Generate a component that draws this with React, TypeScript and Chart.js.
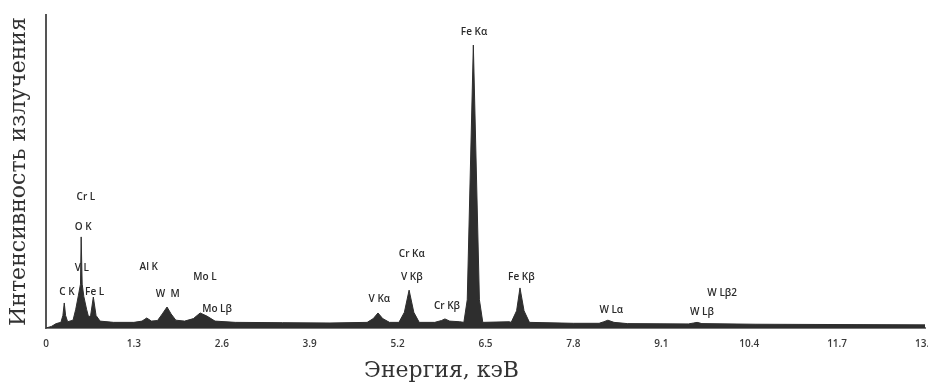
import React, { useEffect, useRef } from "react";
import { Chart, registerables } from "chart.js";
Chart.register(...registerables);

// Spectrum: energy (keV) and intensity (arbitrary units, 0-1000)
const energy = [
  0, 0.08, 0.15, 0.22, 0.25, 0.27, 0.29, 0.32, 0.4, 0.44, 0.48, 0.51, 0.52, 0.535, 0.56, 0.6, 0.63, 0.66, 0.7, 0.74,
  0.8, 1.0, 1.3, 1.42, 1.49, 1.56, 1.65, 1.72, 1.79, 1.85, 1.92, 2.05, 2.18, 2.28, 2.38, 2.5, 2.8, 3.5, 4.2, 4.75,
  4.84, 4.91, 4.98, 5.08, 5.22, 5.3, 5.37, 5.44, 5.52, 5.75, 5.85, 5.9, 5.97, 6.12, 6.18, 6.23, 6.32, 6.41, 6.46, 6.85,
  6.88, 6.96, 7.01, 7.07, 7.15, 7.8, 8.18, 8.25, 8.31, 8.4, 8.6, 9.5, 9.58, 9.63, 9.7, 10.5, 13,
];
const intensity = [
  0, 5, 14, 18, 40, 80, 40, 20, 25, 60, 105, 140, 291, 140, 100, 60, 35, 40, 99, 40,
  22, 18, 18, 22, 32, 22, 24, 45, 67, 45, 25, 22, 30, 48, 38, 22, 18, 17, 16, 18,
  30, 48, 30, 18, 18, 50, 121, 50, 18, 18, 24, 29, 22, 20, 18, 90, 904, 90, 18, 20,
  18, 55, 128, 55, 18, 15, 15, 20, 25, 18, 14, 13, 16, 18, 14, 12, 10,
];

const tickValues = [0, 1.3, 2.6, 3.9, 5.2, 6.5, 7.8, 9.1, 10.4, 11.7, 13.0];
const tickLabels = ["0", "1.3", "2.6", "3.9", "5.2", "6.5", "7.8", "9.1", "10.4", "11.7", "13.0"];

// Peak annotations (label, energy keV, intensity)
const peakNames = ["Cr L", "O K", "V L", "C K", "Fe L", "Al K", "W  M", "Mo L", "Mo Lβ", "V Kα", "Cr Kα", "V Kβ", "Cr Kβ", "Fe Kα", "Fe Kβ", "W Lα", "W Lβ", "W Lβ2"];
const peakX = [0.59, 0.55, 0.53, 0.31, 0.72, 1.52, 1.8, 2.35, 2.53, 4.93, 5.41, 5.41, 5.93, 6.33, 7.03, 8.36, 9.7, 10.0];
const peakY = [419, 323, 192, 115, 115, 195, 109, 163, 61, 93, 236, 163, 70, 946, 163, 58, 51, 112];

const xTitle = "Энергия, кэВ";
const yTitle = "Интенсивность излучения";

export default function App() {
  const ref = useRef<HTMLCanvasElement>(null);
  useEffect(() => {
    const canvas = ref.current!;
    const labelsPlugin = {
      id: "peakLabels",
      afterDatasetsDraw(chart: any) {
        const { ctx, chartArea } = chart;
        const xs = chart.scales.x;
        const ys = chart.scales.y;
        ctx.save();
        ctx.font = "600 10px 'Open Sans'";
        ctx.fillStyle = "#2a2a2a";
        ctx.textAlign = "center";
        ctx.textBaseline = "middle";
        peakNames.forEach((t, i) => {
          ctx.fillText(t, xs.getPixelForValue(peakX[i]), ys.getPixelForValue(peakY[i]));
        });
        ctx.font = "22px 'DejaVu Serif'";
        ctx.fillStyle = "#333";
        ctx.fillText(xTitle, chartArea.left + (chartArea.right - chartArea.left) * 0.45, 371);
        ctx.restore();
      },
    };
    const chart = new Chart(canvas, {
      type: "line",
      data: {
        datasets: [
          {
            data: energy.map((e, i) => ({ x: e, y: intensity[i] })),
            fill: "origin",
            backgroundColor: "#2e2e2e",
            borderColor: "#2e2e2e",
            borderWidth: 1,
            pointRadius: 0,
            tension: 0,
          },
        ],
      },
      options: {
        responsive: false,
        animation: false,
        layout: { padding: { top: 15, right: 3, left: 0, bottom: 0 } },
        plugins: { legend: { display: false }, tooltip: { enabled: false } },
        scales: {
          x: {
            type: "linear",
            min: 0,
            max: 13,
            grid: { display: false, drawTicks: false },
            border: { color: "#777", width: 2 },
            ticks: {
              autoSkip: false,
              maxRotation: 0,
              padding: 10,
              color: "#3a3a3a",
              font: { family: "Open Sans", size: 10, weight: "600" },
              callback: (_v: any, i: number) => tickLabels[i],
            },
            afterBuildTicks: (s: any) => {
              s.ticks = tickValues.map((v) => ({ value: v }));
            },
            afterFit: (s: any) => {
              s.height = 62;
              s.paddingLeft = 0;
              s.paddingRight = 0;
            },
          },
          y: {
            min: 0,
            max: 1000,
            ticks: { display: false },
            grid: { display: false, drawTicks: false },
            border: { color: "#555", width: 2 },
            title: {
              display: true,
              text: yTitle,
              color: "#333",
              font: { family: "DejaVu Serif", size: 22 },
              padding: { top: 6, bottom: 0 },
            },
            afterFit: (s: any) => {
              s.width = 46;
            },
          },
        },
      },
      plugins: [labelsPlugin],
    } as any);
    return () => chart.destroy();
  }, []);
  return (
    <div style={{ position: "fixed", left: 0, top: 0, width: 928, height: 390, background: "#fff" }}>
      <canvas ref={ref} width={928} height={390} />
    </div>
  );
}
